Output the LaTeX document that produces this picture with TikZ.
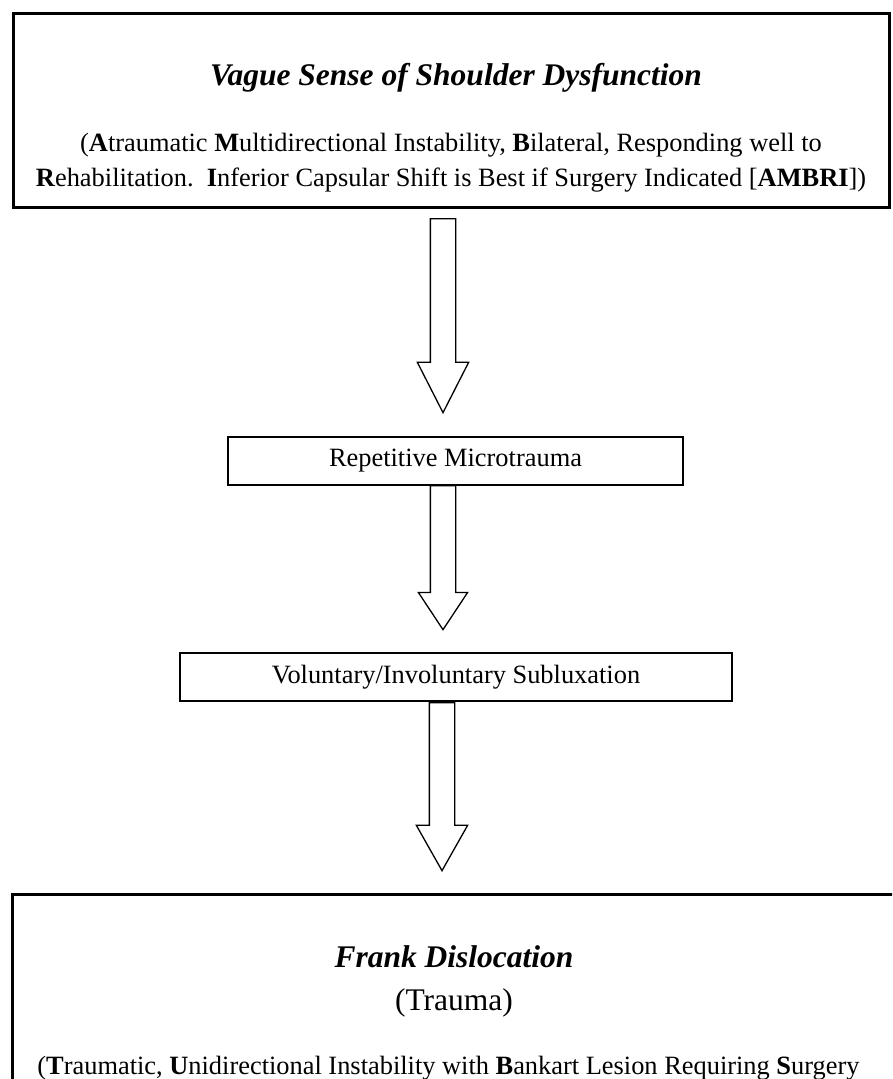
\documentclass[tikz,border=0pt]{standalone}
\usepackage{fontspec}
\setmainfont{Liberation Serif}
\usepackage{tikz}
\usetikzlibrary{shapes.arrows}

\begin{document}
\begin{tikzpicture}[x=1pt, y=-1pt,
  bigbox/.style={draw, line width=3pt, inner sep=0pt},
  smallbox/.style={draw, line width=1.3pt, inner sep=0pt, minimum height=48pt,
    font=\fontsize{26.4}{33}\selectfont},
  hollowarrow/.style={single arrow, draw, line width=1.3pt, rotate=-90, anchor=tail,
    inner xsep=0pt, inner ysep=12pt, single arrow head extend=13pt},
  bodytext/.style={font=\fontsize{26.4}{35}\selectfont},
  headtext/.style={font=\fontsize{31.5}{38}\selectfont\bfseries\itshape}]

  \clip[use as bounding box] (0,0) rectangle (892,1079);

  % top box
  \node[bigbox, minimum width=876pt, minimum height=194pt] (vague) at (451,110) {};
  \node[headtext, anchor=base] (vaguetitle) at (456,85) {Vague Sense of Shoulder Dysfunction};
  \node[bodytext, align=center] (ambri) at (451,163)
    {(\textbf{A}traumatic \textbf{M}ultidirectional Instability, \textbf{B}ilateral, Responding well to\\
     \textbf{R}ehabilitation.\ \ \textbf{I}nferior Capsular Shift is Best if Surgery Indicated [\textbf{AMBRI}])};

  % the two middle steps
  \node[smallbox, minimum width=455pt] (micro) at (455.5,461) {Repetitive Microtrauma};
  \node[smallbox, minimum width=552pt] (sublux) at (456,677) {Voluntary/Involuntary Subluxation};

  % bottom box, running off the page
  \node[bigbox, minimum width=884pt, minimum height=240pt] (frank) at (454,1014) {};
  \node[headtext, anchor=base] (franktitle) at (454,967) {Frank Dislocation};
  \node[font=\fontsize{31.5}{38}\selectfont, anchor=base] (trauma) at (454,1010) {(Trauma)};
  \node[bodytext, anchor=base] (bankart) at (448.5,1074)
    {(\textbf{T}raumatic, \textbf{U}nidirectional Instability with \textbf{B}ankart Lesion Requiring \textbf{S}urgery};

  % hollow arrows between the steps
  \node[hollowarrow, minimum height=194pt, single arrow tip angle=54] (arrowA) at (443,218) {};
  \node[hollowarrow, minimum height=144pt, single arrow tip angle=67,
    single arrow head extend=12pt] (arrowB) at (443,485) {};
  \node[hollowarrow, minimum height=168pt, single arrow tip angle=59] (arrowC) at (442,702) {};

\end{tikzpicture}
\end{document}
